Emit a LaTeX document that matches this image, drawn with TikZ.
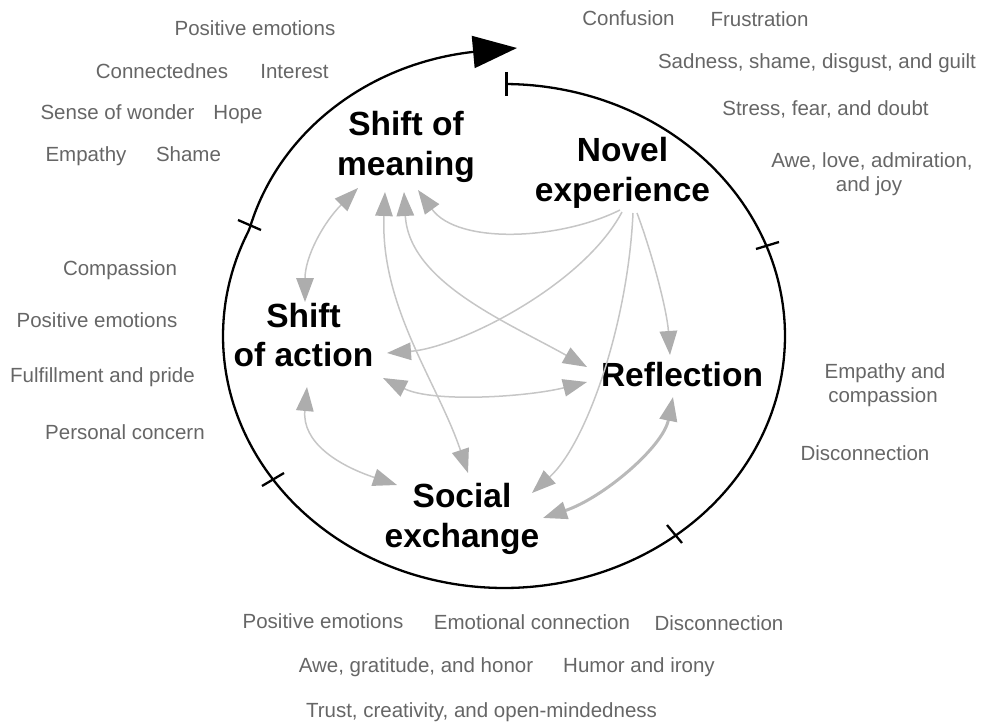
\documentclass[tikz,border=0pt]{standalone}
\usepackage{fontspec}
\setmainfont{Liberation Sans}
\usetikzlibrary{arrows.meta}
\definecolor{labelgray}{HTML}{666666}
\definecolor{linkgray}{HTML}{C6C6C6}
\definecolor{headgray}{HTML}{ADADAD}
\tikzset{
  ghead/.tip={Triangle[length=24pt,width=17.5pt,color=headgray]},
}
\begin{document}
\begin{tikzpicture}[x=1pt,y=-1pt,
  declare function={
    grow(\a)=max(0,min(1,(-205-(\a))/67));
    kk(\a)=1+0.135*sin(90*grow(\a));
  },
  emo/.style={anchor=base, inner sep=0pt, text=labelgray,
    font=\fontsize{20.5}{24}\selectfont},
  stage/.style={inner sep=0pt, align=center,
    font=\fontsize{33.5}{39.5}\selectfont\bfseries},
  cycle/.style={line width=2.3pt, black},
  link/.style={draw=linkgray, line width=1.5pt},
  twoway/.style={link, ghead-ghead},
  oneway/.style={link, -ghead},
]
\useasboundingbox (0,0) rectangle (989,725);

% outer cycle: an ellipse that widens into a spiral before its arrow head
\draw[cycle] plot[domain=89.5:-264.4, samples=320, variable=\s]
  ({504+281*kk(\s)*cos(\s)}, {336-252*kk(\s)*sin(\s)});
\coordinate (cyc-base) at (473,52);
\coordinate (cyc-tip) at (517,48);
\draw[cycle, -{Triangle[length=44pt,width=32pt]}] (cyc-base) -- (cyc-tip);

% stage boundaries on the cycle
\draw[cycle] (506.5,72) -- (506.5,96);
\draw[cycle] (238,220) -- (261,230);
\draw[cycle] (756,249) -- (779,242);
\draw[cycle] (262,486) -- (284,473);
\draw[cycle] (667,525) -- (682,543);

% stages
\node[stage] (mean) at (406,147) {Shift of\\meaning};
\node[stage] (nov)  at (622.5,173) {Novel\\experience};
\node[stage] (act)  at (303.5,335) {Shift\\of action};
\node[stage] (refl) at (682,375) {Reflection};
\node[stage] (soc)  at (462,519) {Social\\exchange};

% links between stages
\draw[twoway] ([shift={(-48,41)}]mean.center) .. controls +(-35,35) and +(0,-45) .. ([shift={(1.5,-33)}]act.center);
\draw[twoway] ([shift={(-21,45)}]mean.center) .. controls +(-5,115) and +(-30,-90) .. ([shift={(6,-46)}]soc.center);
\draw[twoway] ([shift={(-2,45)}]mean.center) .. controls +(5,90) and +(-80,-45) .. ([shift={(-95,-8)}]refl.center);
\draw[oneway] ([shift={(-2.5,37)}]nov.center) .. controls +(-60,30) and +(40,55) .. ([shift={(12,43)}]mean.center);
\draw[oneway] ([shift={(-0.5,39)}]nov.center) .. controls +(-40,75) and +(70,-5) .. ([shift={(83.5,18)}]act.center);
\draw[oneway] ([shift={(14.5,40)}]nov.center) .. controls +(15,40) and +(-3,-45) .. ([shift={(-12,-20)}]refl.center);
\draw[oneway] ([shift={(10.5,40)}]nov.center) .. controls +(-5,110) and +(55,-50) .. ([shift={(70,-26)}]soc.center);
\draw[twoway] ([shift={(79.5,43)}]act.center) .. controls +(50,25) and +(-60,15) .. ([shift={(-95,7)}]refl.center);
\draw[twoway] ([shift={(3.5,52)}]act.center) .. controls +(-5,55) and +(-60,-20) .. ([shift={(-65,-34)}]soc.center);
\draw[twoway, line width=3pt, draw=headgray!85!white] ([shift={(-9,22)}]refl.center) .. controls +(-10,50) and +(60,-20) .. ([shift={(81,-1)}]soc.center);

% emotions around shift of meaning
\node[emo] (m1) at (255,36) {Positive emotions};
\node[emo] (m2) at (162,78) {Connectednes};
\node[emo] (m3) at (294.5,78) {Interest};
\node[emo] (m4) at (117.5,120) {Sense of wonder};
\node[emo] (m5) at (238,120) {Hope};
\node[emo] (m6) at (86,161) {Empathy};
\node[emo] (m7) at (188.5,161) {Shame};

% emotions around novel experience
\node[emo] (n1) at (628.5,26) {Confusion};
\node[emo] (n2) at (759.5,27) {Frustration};
\node[emo] (n3) at (817,69) {Sadness, shame, disgust, and guilt};
\node[emo] (n4) at (825.5,115) {Stress, fear, and doubt};
\node[emo] (n5) at (872,167) {Awe, love, admiration,};
\node[emo] (n6) at (869,191) {and joy};

% emotions around shift of action
\node[emo] (a1) at (120,275) {Compassion};
\node[emo] (a2) at (97,327) {Positive emotions};
\node[emo] (a3) at (102.5,382) {Fulfillment and pride};
\node[emo] (a4) at (125,439) {Personal concern};

% emotions around reflection
\node[emo] (r1) at (885,378) {Empathy and};
\node[emo] (r2) at (883,402) {compassion};
\node[emo] (r3) at (865,460) {Disconnection};

% emotions around social exchange
\node[emo] (s1) at (323,628) {Positive emotions};
\node[emo] (s2) at (532,629) {Emotional connection};
\node[emo] (s3) at (719,630) {Disconnection};
\node[emo] (s4) at (416,672) {Awe, gratitude, and honor};
\node[emo] (s5) at (639,672) {Humor and irony};
\node[emo] (s6) at (481.5,717) {Trust, creativity, and open-mindedness};
\end{tikzpicture}
\end{document}
